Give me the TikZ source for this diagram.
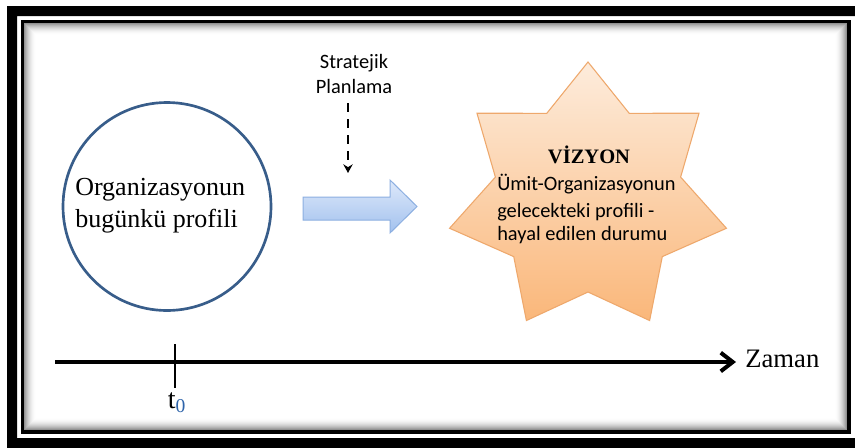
\documentclass[tikz,border=0pt]{standalone}
\usepackage{fontspec}
\setmainfont{Liberation Serif}
\newfontfamily\calibri{Carlito}
\usetikzlibrary{arrows.meta}
\definecolor{circblue}{RGB}{56,93,138}
\definecolor{arrtop}{RGB}{222,233,250}
\definecolor{arrbot}{RGB}{162,193,238}
\definecolor{arrline}{RGB}{140,175,225}
\definecolor{startop}{RGB}{253,236,220}
\definecolor{starbot}{RGB}{250,183,122}
\definecolor{starline}{RGB}{238,168,108}
\definecolor{subblue}{RGB}{46,100,170}
\tikzset{
  serifbig/.style={font=\fontsize{19.5}{24}\selectfont, inner sep=0pt},
  sanstext/.style={font=\calibri\fontsize{15.3}{18}\selectfont, inner sep=0pt},
  titlebold/.style={font=\fontsize{15.4}{18}\selectfont\bfseries, inner sep=0pt},
  starshape/.style={top color=startop, bottom color=starbot, draw=starline, line width=0.8pt, line join=miter},
  bigarrowshape/.style={top color=arrtop, bottom color=arrbot, draw=arrline, line width=0.75pt, line join=miter},
}
\begin{document}
\begin{tikzpicture}[x=0.75pt,y=-0.75pt]
\useasboundingbox (0,0) rectangle (855,447);
\fill[white] (0,0) rectangle (855,447);
% outer frame
\fill[black,even odd rule] (7,6) rectangle (875,465) (17,16) rectangle (855,438);
% inner shadow
\foreach \d in {1,...,12}{
  \pgfmathsetmacro\g{50*(1-\d/13)*(1-\d/13)}
  \draw[black!\g, line width=0.8pt] ({24+\d-0.5},{23+\d-0.5}) rectangle ({847-\d+0.5},{430-\d+0.5});
}
% inner frame line
\draw[line width=2.6pt] (22.5,21.5) rectangle (849,432);

% circle
\node[circle, draw=circblue, line width=2pt, minimum size=156pt, inner sep=0pt] (today) at (167,206.5) {};
\node[serifbig, anchor=base west] (todayA) at (75,195) {Organizasyonun};
\node[serifbig, anchor=base west] (todayB) at (75,227) {bugünkü profili};

% strategic planning
\node[sanstext, anchor=base] (planA) at (354,68) {Stratejik};
\node[sanstext, anchor=base] (planB) at (354,93) {Planlama};
\coordinate (dtop) at (348,103);
\coordinate (dtip) at (348,173);
\draw[line width=2pt, dash pattern=on 6.5pt off 5.5pt, -{Stealth[length=6.5pt,width=7pt]}] (dtop) -- (dtip);

% big arrow
\path[bigarrowshape] (303,197) -- (390,197) -- (390,180) -- (417,206.5) -- (390,233) -- (390,220) -- (303,220) -- cycle;

% star
\path[starshape] plot[samples at={0,...,13}, variable=\k] ({588+(142-47*mod(\k,2))*cos(90+\k*360/14)},{198-(136-42*mod(\k,2))*sin(90+\k*360/14)}) -- cycle;
\node[titlebold, anchor=base] (vision) at (589,163) {VİZYON};
\node[sanstext, anchor=base west] (visA) at (497,190) {Ümit-Organizasyonun};
\node[sanstext, anchor=base west] (visB) at (497,217) {gelecekteki profili -};
\node[sanstext, anchor=base west] (visC) at (497,240) {hayal edilen durumu};

% time axis
\coordinate (ax0) at (55,362);
\coordinate (ax1) at (736,362);
\draw[line width=3pt, -{Straight Barb[length=9pt,width=14pt]}] (ax0) -- (ax1);
\node[font=\fontsize{20}{24}\selectfont, inner sep=0pt, anchor=base west] (zaman) at (745,367) {Zaman};
\coordinate (tk0) at (175,344);
\coordinate (tk1) at (175,388);
\draw[line width=2.2pt] (tk0) -- (tk1);
\node[font=\fontsize{21}{24}\selectfont, inner sep=0pt, anchor=base] (tzero) at (177,408) {t\textsubscript{\color{subblue}0}};
\end{tikzpicture}
\end{document}
